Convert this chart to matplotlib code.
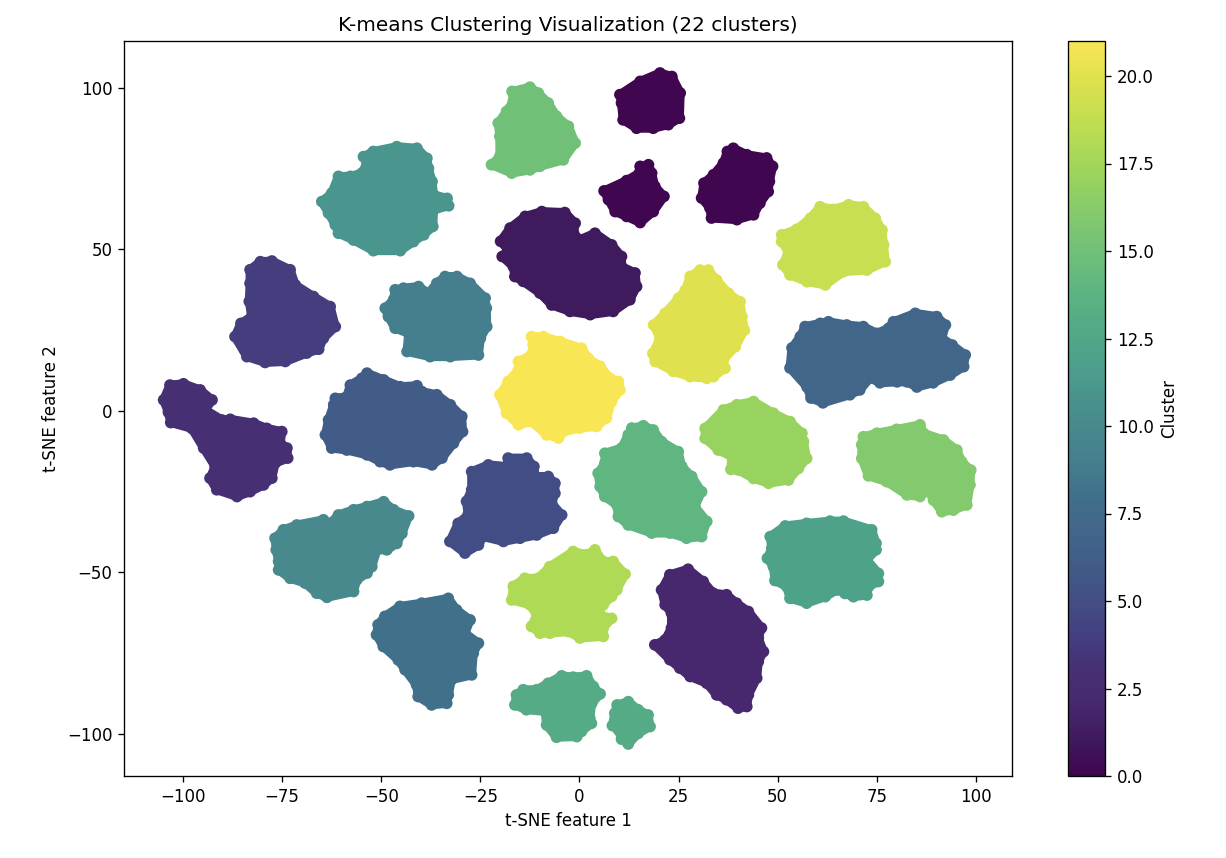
import numpy as np
import matplotlib
matplotlib.use("Agg")
import matplotlib.pyplot as plt
from matplotlib.colors import LinearSegmentedColormap

# Boundary points of each cluster in t-SNE coordinates, keyed by label.
cluster_0_top = [(10.2,97.9),(15.3,102),(20.3,104.6),(23.3,103.5),(25.4,98.4),(25.2,90.6),(22.4,88.6),(18.6,87.5),(14.4,87.5),(11,90.1),(10.6,95.3)]
cluster_0_mid = [(6.2,68.1),(11.9,71.3),(15.1,73.6),(15.3,75.7),(17.4,76.2),(18.2,73.6),(19,69.5),(21.3,66.4),(18.6,61.7),(15.3,58.3),(11.9,60.2),(9,61.7),(7.3,65.4)]
cluster_0_right = [(38.8,81.3),(42.2,79.3),(47.2,78.3),(48.7,75.7),(47.9,71),(47.6,67.9),(45.5,64.3),(43.9,60.7),(39.7,59.2),(33.3,59.7),(32.9,62.8),(30.8,65.9),(31.4,70.5),(33.8,73.1),(36.3,76.7),(37.3,80.3)]
cluster_1 = [(-19.9,52.5),(-17.5,56.6),(-13.7,60.2),(-9.5,61.7),(-3.7,61.4),(-1.1,58.1),(-1.5,55),(0.1,53),(3.9,55),(8.1,51.4),(10.6,47.8),(10.6,44.7),(14,42.7),(14.4,38.5),(12.7,34.4),(8.5,30.8),(2.7,29.8),(-2.4,30.8),(-7,32.8),(-10,36.5),(-14.2,40.1),(-16.3,41.6),(-16.7,44.7),(-19.5,47.8),(-18,49.9)]
cluster_2 = [(27.4,-49),(31.2,-52.8),(33.7,-56.4),(37.1,-56.9),(39.6,-59.5),(42.6,-62.1),(45.9,-67.2),(45.1,-70.3),(46.4,-74.5),(45.1,-77.6),(44.7,-82.7),(42.6,-87.9),(42.2,-91.5),(40,-92),(37.1,-89.4),(34.6,-87.9),(32.1,-84.3),(27.9,-82.2),(25.3,-79.6),(22.8,-77),(19,-72.4),(21.6,-70.9),(23.2,-67.2),(23.2,-62.6),(21.6,-60),(20.7,-55.4),(22.8,-50.7)]
cluster_3 = [(-104.9,3.4),(-103.3,8),(-99.9,8.4),(-95.7,6.5),(-92.7,3.4),(-94.4,.3),(-90.2,-2.8),(-88.1,-2.6),(-82.2,-3.8),(-78.9,-5.4),(-75.1,-6.4),(-75.5,-10),(-73.8,-11.5),(-73.6,-14.6),(-76.8,-16.2),(-77.6,-20.8),(-79.7,-22.9),(-83.1,-25),(-86.4,-26.5),(-91.5,-24.4),(-93.2,-20.8),(-91.9,-17.2),(-94.8,-11.5),(-97.8,-5.4),(-103.1,-3.6),(-103.7,-.4)]
cluster_4 = [(-83.1,43.7),(-80.5,46.2),(-77.6,46.4),(-73,43.7),(-71.7,39),(-67.1,35.4),(-62.9,32.3),(-61.6,26.1),(-64.6,22.5),(-65.8,19.1),(-68.8,17.9),(-74.2,15.3),(-79.3,15),(-83.9,16.8),(-86.9,23),(-85.4,27.1),(-82.7,29.2),(-83.3,33.9),(-83.1,39.5)]
cluster_5 = [(-27.2,-18.8),(-23,-16.7),(-18.4,-17.2),(-18,-14.6),(-13.3,-14.6),(-11.5,-17.2),(-11.2,-20.3),(-7.9,-20.3),(-6.2,-22.4),(-6.2,-25.5),(-7,-28.6),(-4.5,-32.2),(-6.6,-36.3),(-10.8,-38.4),(-15,-39.4),(-19.2,-40.4),(-24.3,-38.9),(-25.5,-41.5),(-28.9,-44),(-32.7,-40.4),(-30.6,-34.8),(-28.1,-32.2),(-28.5,-28),(-27.2,-24.4)]
cluster_6 = [(-53.6,11.7),(-49.4,9.6),(-45.2,7.5),(-41,7.8),(-39.8,6),(-36,5),(-32.6,1.9),(-29.7,-1.7),(-29.5,-6.4),(-31.8,-10),(-34.7,-14.6),(-37.2,-16.7),(-41.9,-15.7),(-47.8,-16.7),(-50.3,-15.7),(-53.6,-13.6),(-58.7,-12.1),(-62.5,-11.5),(-64.1,-7.4),(-63.3,-2.8),(-62,1.9),(-61.6,3.9),(-58.7,4.4),(-57.8,8),(-54.9,10.1)]
cluster_7 = [(56.9,26.1),(60.7,27.1),(62.8,27.6),(67.4,26.6),(71.6,26.1),(75,24),(78,25.6),(79.2,27.6),(84.7,30.2),(90.1,29.2),(92.3,26.6),(91.4,22.5),(94,20.4),(97.3,17.3),(96.9,13.7),(93.5,11.1),(89.2,8.7),(85.1,7.4),(82.6,9),(80.1,9),(75.8,8.7),(73.3,10.2),(70.7,6.5),(68.2,5),(61.4,2.5),(58.4,4),(57.4,7.4),(53.1,13.3),(53.6,19.5),(55.7,23)]
cluster_8 = [(-50.8,-66.2),(-49.1,-63.6),(-45.3,-60.5),(-39.8,-59.5),(-33.1,-58),(-31,-61.6),(-27.6,-64.7),(-28.9,-68.8),(-25.5,-71.9),(-26.8,-75),(-27.2,-81.7),(-32.3,-83.2),(-33.1,-87.9),(-33.5,-90.5),(-37.3,-91),(-40.7,-88.4),(-41.1,-84.8),(-44,-80.1),(-45.7,-77.1),(-49.5,-72.9),(-51.2,-69.3)]
cluster_9 = [(-46.5,37.5),(-44.4,38),(-40.6,38.5),(-38.1,36.4),(-36,39.5),(-33.9,41.6),(-30.9,41.6),(-27.6,39.5),(-23.8,34.9),(-23.5,31.8),(-23.4,26.1),(-25,22.5),(-25.5,17.3),(-32.6,16.8),(-37.7,16.8),(-43.5,18.4),(-43.1,24),(-46.5,25.6),(-48.2,29.2),(-49,31.8),(-46.9,34.4)]
cluster_10 = [(-76.8,-39.4),(-74.7,-36.8),(-71.3,-35.3),(-64.6,-33.7),(-62.9,-34.8),(-60.8,-32.2),(-57,-30.6),(-53.6,-29.6),(-49.4,-28.1),(-46.9,-30.6),(-43.1,-32.5),(-44.8,-37.9),(-46.1,-41),(-48.6,-43),(-51.1,-43),(-52.4,-48.2),(-53.6,-50.2),(-56.2,-52.3),(-57,-55.9),(-63.7,-57.7),(-66.3,-56.4),(-69.2,-53.3),(-73,-51.8),(-75.9,-49.2),(-75.9,-46.6),(-76.5,-43)]
cluster_11 = [(-54.5,78.7),(-52,80.3),(-46.1,81.8),(-41,81.3),(-38.5,78.2),(-38.1,75.1),(-37.2,71),(-36.8,66.9),(-33.4,65.8),(-33,63.5),(-36.8,62.2),(-37,57.1),(-39.3,54.5),(-41.9,52.4),(-45.2,49.6),(-52,49.6),(-57,52.9),(-60.8,55),(-61.6,57.6),(-63.3,61.2),(-65,64.8),(-62.5,67.4),(-60.8,72.6),(-57.8,72.6),(-54.9,73.6),(-53.6,76.7)]
cluster_12 = [(48.1,-38.9),(51.9,-35.6),(57.3,-34.8),(63.2,-34.1),(66.6,-34.1),(73.7,-36.8),(74.8,-41),(74.8,-43),(72.5,-46.1),(75.4,-50.3),(75.4,-52.8),(72.9,-54.4),(72.5,-57),(69.1,-57.5),(67,-56.5),(64.9,-55.4),(62,-57.5),(57.3,-59.5),(53.1,-58),(52.3,-54.4),(49.3,-52.5),(48.9,-48.2),(47.4,-45.6),(48.5,-42.5)]
cluster_13_main = [(-14.2,-86.3),(-10.8,-86.3),(-7.9,-84.3),(-4.5,-82),(-1.6,-82.4),(1.8,-82),(3.5,-85.3),(5.2,-87.6),(3.1,-90.5),(2.6,-95.1),(3,-96.7),(.5,-99.2),(-.7,-100.8),(-5.8,-101),(-8.3,-97.2),(-8.7,-93),(-13.4,-92.5),(-16.3,-91),(-15.9,-87.9)]
cluster_13_small = [(9.5,-91),(12.3,-90),(14.8,-92.5),(17.3,-94.1),(17.8,-97.7),(14.8,-99.8),(12.3,-103.1),(10.6,-101.6),(9.8,-98.7),(8.3,-97.4),(8.9,-93.6)]
cluster_14 = [(13.2,-5.3),(16.1,-4.6),(18.6,-5.9),(20.7,-9.5),(24.9,-12.6),(25.8,-17.2),(28.3,-20.3),(30.8,-25),(29.1,-29.6),(32.1,-34.2),(30.8,-38.9),(27,-39.4),(22.8,-37.8),(18.2,-37.8),(12.3,-35.3),(9.8,-32.7),(9.4,-29.1),(6.4,-26.5),(5.2,-23.4),(4.7,-19.3),(6.4,-16.2),(6.4,-13.1),(10.6,-11.5),(12.3,-7.4)]
cluster_15 = [(-17,98.9),(-12.5,100.2),(-10.4,98.4),(-7.9,95.3),(-5.8,91.2),(-2.8,88.1),(-1.1,82.9),(-4.1,77.7),(-10,75.7),(-12.5,74.6),(-17.1,73.6),(-22.2,76.2),(-20.1,78.8),(-20.1,85),(-20.5,89.1),(-18.4,92.7),(-16.7,95.8)]
cluster_16 = [(71.6,-8),(75,-6.9),(80,-5.7),(85.9,-4.3),(86.8,-6.9),(91.8,-9),(95.2,-12.1),(96.4,-15.7),(98.7,-18.3),(98.5,-22.9),(97.7,-29.1),(94.3,-30.7),(91.4,-31.2),(89.3,-27.6),(88,-24.5),(85.9,-26.5),(82.6,-26),(77.5,-21.9),(72.9,-20.1),(71.2,-14.7),(71.2,-10.5)]
cluster_17 = [(31.7,-5.4),(36.3,.3),(39.7,1.9),(43.9,2.9),(48.9,-.7),(53.1,-3.3),(56.1,-6.9),(56.5,-9.5),(57.3,-14.7),(55.2,-17.8),(52.7,-21.4),(47.7,-22.4),(43.9,-20.9),(40.1,-18.3),(38.2,-18.1),(38.4,-14.1),(35,-12.1),(31.7,-8.5)]
cluster_18 = [(-16.7,-54.3),(-13.8,-51.8),(-10.4,-51.8),(-7.5,-48.2),(-1.6,-43.5),(1.8,-44.5),(3.9,-43),(6,-46.6),(8.5,-46.6),(11.5,-50.5),(9.4,-55.4),(8.1,-57.4),(6,-60),(4.7,-63.1),(8.1,-64.2),(6,-67.2),(6,-69.8),(.1,-70.3),(-2.8,-68.3),(-7.5,-68.8),(-10,-68.8),(-12.1,-66.7),(-10.8,-63.1),(-12.5,-60),(-17.1,-58.5)]
cluster_19 = [(51,54.5),(54.8,56.2),(58.2,59.6),(60.7,63.2),(64.1,62.4),(67.9,63.8),(71.6,63.2),(74.6,59.6),(76.3,56),(76.7,51.4),(77.1,46.2),(72.5,43.6),(66.6,43.1),(62,39),(57.4,40),(53.1,42.1),(51.3,45.2),(52.7,49.3),(51,52.4)]
cluster_20 = [(32.5,43.6),(34.6,40.5),(37.6,36.4),(40.5,33.8),(41,29.2),(41.6,25),(39.3,19.9),(36.3,15.8),(36.7,13.2),(33.8,10.6),(32.1,10.1),(27.9,10.6),(23.7,12.2),(19.1,15.3),(18.5,17.8),(20.3,22.5),(18.7,26.6),(21.6,30.2),(25,34.9),(26.7,37.4),(27.9,41.6),(30.4,43.6)]
cluster_21 = [(-12.1,23),(-9.1,23),(-4.9,21.5),(.5,19.4),(2.2,16.3),(5.2,13.8),(7.7,10.1),(9.8,9.1),(10.2,6.5),(8.1,2.9),(6.8,-2.2),(4.3,-4.8),(.1,-5.3),(-4.1,-6.4),(-5.3,-8.4),(-8.3,-7.4),(-12.1,-3.3),(-15.4,-4.3),(-18.4,-.7),(-20.1,5),(-18,9.1),(-15.4,12.7),(-15.4,15.3),(-12.1,17.4),(-11.7,20.5)]

cluster_groups = [
    (0, cluster_0_top), (0, cluster_0_mid), (0, cluster_0_right), (1, cluster_1),
    (2, cluster_2), (3, cluster_3), (4, cluster_4), (5, cluster_5), (6, cluster_6),
    (7, cluster_7), (8, cluster_8), (9, cluster_9), (10, cluster_10), (11, cluster_11),
    (12, cluster_12), (13, cluster_13_main), (13, cluster_13_small), (14, cluster_14),
    (15, cluster_15), (16, cluster_16), (17, cluster_17), (18, cluster_18),
    (19, cluster_19), (20, cluster_20), (21, cluster_21),
]

# Slightly muted viridis, one anchor colour per cluster label.
label_colors = ["#400650", "#3f1a5c", "#47286f", "#472f74", "#443f7f", "#434e85",
                "#405c87", "#42668a", "#40708a", "#457f8e", "#47898c", "#4a958d",
                "#4ea28a", "#54ab85", "#5fb680", "#70c078", "#82c96f", "#97d25f",
                "#aeda56", "#c6df50", "#e0e14e", "#f9e655"]
cmap = LinearSegmentedColormap.from_list("muted_viridis", label_colors, N=256)

DPI = 120
fig = plt.figure(figsize=(1226 / DPI, 858 / DPI), dpi=DPI)
W, H = 1226.0, 858.0
ax = fig.add_axes([124 / W, 1 - 776 / H, 888 / W, 735 / H])
cax = fig.add_axes([1068 / W, 1 - 776 / H, 37 / W, 735 / H])

xs, ys, labels = [], [], []
for label, pts in cluster_groups:
    px, py = zip(*pts)
    # Solid body of the cluster; the stroke sits just inside the marker rim
    # so the points still scallop the edge.
    body = ax.fill(px, py, color=cmap(label / 21), lw=5.4, zorder=1)[0]
    body.set_joinstyle("round")
    xs.extend(px)
    ys.extend(py)
    labels.extend([label] * len(pts))

sc = ax.scatter(xs, ys, c=labels, cmap=cmap, vmin=0, vmax=21, s=36, zorder=2)
ax.set_xlim(-114.9, 109.1)
ax.set_ylim(-113, 114.5)
ax.set_title("K-means Clustering Visualization (22 clusters)")
ax.set_xlabel("t-SNE feature 1")
ax.set_ylabel("t-SNE feature 2")

fig.colorbar(sc, cax=cax, label="Cluster")
fig.savefig("out.png", dpi=DPI)
